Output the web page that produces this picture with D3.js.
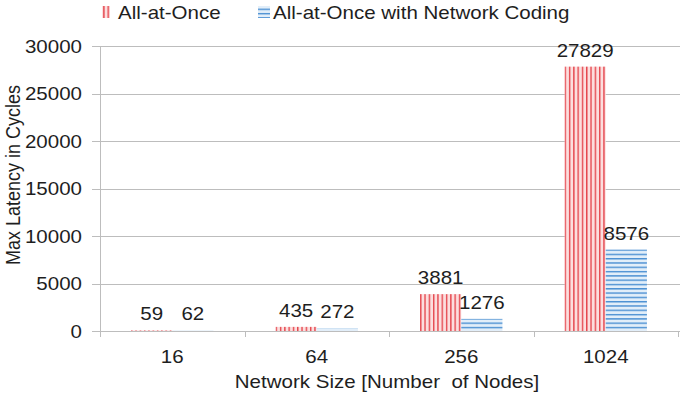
<!DOCTYPE html>
<head>
    <meta charset="utf-8">
    <title>Max latency vs network size</title>
    <style>
        body { margin: 0; background: #fff; }
        text { font-family: "Liberation Sans", Arial, sans-serif; fill: #1e1e1e; }
    </style>
</head>
<body>
    <svg width="680" height="393"></svg>
    <script src="https://d3js.org/d3.v7.min.js"></script>
    <script>

        var sizes = ["16", "64", "256", "1024"];
        var seriesNames = ["All-at-Once", "All-at-Once with Network Coding"];
        var allAtOnce = [59, 435, 3881, 27829];
        var withCoding = [62, 272, 1276, 8576];
        var yTicks = [0, 5000, 10000, 15000, 20000, 25000, 30000];

        var svg = d3.select("svg");
        var sx = 1.14; // text in the original is stretched horizontally

        var x0 = d3.scaleBand().domain(sizes).range([100, 678]).paddingInner(0.43).paddingOuter(0.215),
            x1 = d3.scaleBand().domain([0, 1]).range([0, x0.bandwidth()]),
            y = d3.scaleLinear().domain([0, 30000]).range([331, 46]);

        function label(g, x, y, str, anchor) {
            return g.append("text")
                .attr("transform", "translate(" + x + "," + y + ") scale(" + sx + ",1)")
                .attr("text-anchor", anchor || "middle")
                .style("font-size", "18px")
                .text(str);
        }

        // stripe patterns
        var defs = svg.append("defs");
        var pr = defs.append("pattern").attr("id", "redStripe")
            .attr("patternUnits", "userSpaceOnUse").attr("width", 4.3).attr("height", 10);
        pr.append("rect").attr("width", 4.3).attr("height", 10).attr("fill", "#fcdede");
        pr.append("rect").attr("x", 0).attr("width", 1.4).attr("height", 10).attr("fill", "#e5484f");
        var pb = defs.append("pattern").attr("id", "blueStripe")
            .attr("patternUnits", "userSpaceOnUse").attr("width", 10).attr("height", 4.3);
        pb.append("rect").attr("width", 10).attr("height", 4.3).attr("fill", "#e2eef9");
        pb.append("rect").attr("y", 0).attr("width", 10).attr("height", 1.4).attr("fill", "#4a8fd2");
        var fills = ["url(#redStripe)", "url(#blueStripe)"];

        // gridlines + y ticks
        var grid = svg.append("g");
        yTicks.forEach(function (t) {
            grid.append("line")
                .attr("x1", 92).attr("x2", 680)
                .attr("y1", Math.round(y(t)) + 0.5).attr("y2", Math.round(y(t)) + 0.5)
                .attr("stroke", "#bdbdbd").attr("stroke-width", 1);
            label(grid, 82, y(t) + 6.5, t, "end");
        });
        grid.append("line")
            .attr("x1", 100.5).attr("x2", 100.5).attr("y1", y(30000)).attr("y2", y(0))
            .attr("stroke", "#bdbdbd");

        // x axis ticks at category boundaries
        var bounds = sizes.map(function (s) { return x0(s) - x0.step() * 0.215; }).concat([678]);
        bounds.forEach(function (b) {
            grid.append("line")
                .attr("x1", Math.round(b) + 0.5).attr("x2", Math.round(b) + 0.5)
                .attr("y1", y(0)).attr("y2", y(0) + 6)
                .attr("stroke", "#bdbdbd");
        });

        // bars
        var rows = sizes.map(function (s, i) { return { size: s, vals: [allAtOnce[i], withCoding[i]] }; });
        var grp = svg.selectAll(".grp").data(rows).enter().append("g")
            .attr("transform", function (d) { return "translate(" + x0(d.size) + ",0)"; });

        grp.selectAll("rect").data(function (d) { return d.vals; }).enter().append("rect")
            .attr("x", function (d, i) { return x1(i); })
            .attr("width", x1.bandwidth())
            .attr("y", function (d) { return y(d); })
            .attr("height", function (d) { return y(0) - y(d); })
            .attr("fill", function (d, i) { return fills[i]; });

        grp.each(function (d) {
            var g = d3.select(this);
            d.vals.forEach(function (v, i) {
                label(g, x1(i) + x1.bandwidth() / 2, y(v) - 10, v);
            });
        });

        // x tick labels
        sizes.forEach(function (s) {
            label(svg, x0(s) + x0.bandwidth() / 2, 363, s);
        });

        // axis titles
        label(svg, 387, 388, "Network Size [Number  of Nodes]").style("white-space", "pre");
        svg.append("text")
            .attr("transform", "translate(20,175) rotate(-90) scale(1," + sx + ")")
            .attr("text-anchor", "middle")
            .style("font-size", "18px")
            .text("Max Latency in Cycles");

        // legend
        var leg = svg.append("g");
        leg.append("rect").attr("x", 102).attr("y", 6).attr("width", 8).attr("height", 12).attr("fill", fills[0]);
        label(leg, 118, 19, seriesNames[0], "start");
        leg.append("rect").attr("x", 258).attr("y", 6).attr("width", 12).attr("height", 12).attr("fill", fills[1]);
        label(leg, 273, 19, seriesNames[1], "start");

    </script>
</body>
